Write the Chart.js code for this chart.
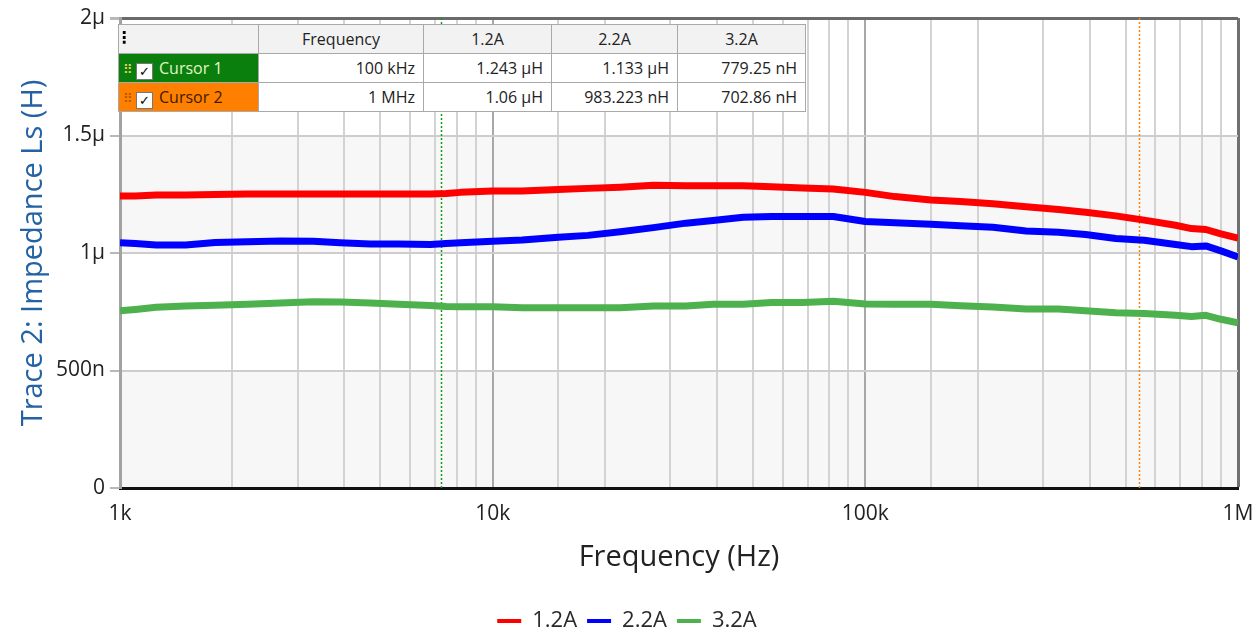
<!DOCTYPE html>
<html>
<head>
<meta charset="utf-8">
<script src="https://cdn.jsdelivr.net/npm/chart.js@4/dist/chart.umd.min.js"></script>
<style>
  body { margin: 0; background: #fff; }
  #wrap { position: relative; width: 1254px; height: 634px; }
  #cursors {
    position: absolute; left: 118px; top: 24px;
    border-collapse: collapse; table-layout: fixed;
    font: 16px "Open Sans", sans-serif; color: #222; background: #fff;
  }
  #cursors td { height: 28px; border: 1px solid #a9a9a9; padding: 0 8px; white-space: nowrap; }
  #cursors tr.head td { background: #f2f2f2; text-align: center; }
  #cursors td.num { text-align: right; }
  #cursors td.c1 { background: #0a7f0e; color: #e4f6c4; padding-left: 4px; }
  #cursors td.c2 { background: #ff8000; color: #3a1c00; padding-left: 4px; }
  .grip { font-size: 13px; letter-spacing: -1px; margin-right: 4px; }
  .c1 .grip { color: #e8d060; }
  .c2 .grip { color: #b05a00; }
  .box {
    display: inline-block; width: 15px; height: 15px; line-height: 15px;
    background: #fff; border: 1px solid #777; color: #000;
    font: bold 13px "DejaVu Sans"; text-align: center; vertical-align: -2px; margin-right: 6px;
  }
  .dots { position: absolute; left: -3px; top: 5px; font: bold 16px "DejaVu Sans"; color: #000; line-height: 16px; }
</style>
</head>
<body>
<div id="wrap">
  <canvas id="chart" width="1254" height="634"></canvas>
  <table id="cursors">
    <colgroup><col style="width:140px"><col style="width:165px"><col style="width:128px"><col style="width:126px"><col style="width:128px"></colgroup>
    <tr class="head"><td style="position:relative"><span class="dots">⋮</span></td><td>Frequency</td><td>1.2A</td><td>2.2A</td><td>3.2A</td></tr>
    <tr><td class="c1"><span class="grip">⠿</span><span class="box">✓</span>Cursor 1</td><td class="num">100 kHz</td><td class="num">1.243 µH</td><td class="num">1.133 µH</td><td class="num">779.25 nH</td></tr>
    <tr><td class="c2"><span class="grip">⠿</span><span class="box">✓</span>Cursor 2</td><td class="num">1 MHz</td><td class="num">1.06 µH</td><td class="num">983.223 nH</td><td class="num">702.86 nH</td></tr>
  </table>
</div>
<script>
// sweep frequencies (Hz)
const freqHz = [1000, 1100, 1250, 1500, 1800, 2200, 2700, 3300, 3900, 4700, 5600, 6800, 7500, 8200,
  10000, 12000, 15000, 18000, 22000, 27000, 33000, 39000, 47000, 56000, 68000, 82000,
  100000, 120000, 150000, 180000, 220000, 270000, 330000, 390000, 470000, 560000, 680000, 750000, 820000, 900000, 1000000];

// Ls in µH for each bias current
const ls12A = [1.243, 1.243, 1.247, 1.247, 1.249, 1.251, 1.251, 1.251, 1.251, 1.251, 1.251, 1.251, 1.253, 1.258,
  1.264, 1.264, 1.270, 1.275, 1.280, 1.288, 1.286, 1.286, 1.286, 1.282, 1.277, 1.272,
  1.258, 1.240, 1.226, 1.219, 1.210, 1.197, 1.185, 1.173, 1.158, 1.140, 1.118, 1.104, 1.100, 1.081, 1.063];
const ls22A = [1.044, 1.040, 1.034, 1.034, 1.045, 1.048, 1.051, 1.050, 1.044, 1.038, 1.038, 1.036, 1.040, 1.044,
  1.050, 1.055, 1.067, 1.075, 1.090, 1.108, 1.127, 1.138, 1.152, 1.155, 1.155, 1.155,
  1.134, 1.129, 1.122, 1.116, 1.110, 1.094, 1.088, 1.079, 1.062, 1.054, 1.036, 1.027, 1.030, 1.009, 0.983];
const ls32A = [0.754, 0.760, 0.769, 0.774, 0.778, 0.782, 0.787, 0.793, 0.791, 0.787, 0.782, 0.777, 0.772, 0.771,
  0.771, 0.767, 0.767, 0.767, 0.767, 0.774, 0.774, 0.782, 0.782, 0.789, 0.789, 0.795,
  0.783, 0.782, 0.782, 0.776, 0.770, 0.762, 0.762, 0.754, 0.746, 0.743, 0.735, 0.730, 0.735, 0.718, 0.703];

const seriesNames = ['1.2A', '2.2A', '3.2A'];
const seriesColors = ['#ff0000', '#0000ff', '#4db24d'];

const xTickValues = [1000, 10000, 100000, 1000000];
const xTickNames = ['1k', '10k', '100k', '1M'];
const yTickNames = ['0', '500n', '1μ', '1.5μ', '2μ'];

// cursor markers (Hz)
const cursorFreqs = [7265, 542000];
const cursorColors = ['#129a12', '#f08a10'];

const FONT = '"Open Sans", "Noto Sans", sans-serif';

const toPoints = vals => freqHz.map((f, i) => ({ x: f, y: vals[i] }));

// alternating shaded bands behind the grid
const bandPlugin = {
  id: 'bands',
  beforeDraw(chart) {
    const { ctx, chartArea: a, scales: { y } } = chart;
    ctx.save();
    ctx.fillStyle = '#f7f7f7';
    [[0, 0.5], [1, 1.5]].forEach(([lo, hi]) => {
      const top = y.getPixelForValue(hi), bot = y.getPixelForValue(lo);
      ctx.fillRect(a.left, top, a.right - a.left, bot - top);
    });
    ctx.restore();
  }
};

const cursorPlugin = {
  id: 'cursors',
  beforeDatasetsDraw(chart) {
    const { ctx, chartArea: a, scales: { x } } = chart;
    ctx.save();
    ctx.lineWidth = 1.5;
    ctx.setLineDash([2, 2]);
    cursorFreqs.forEach((f, i) => {
      const px = Math.round(x.getPixelForValue(f)) + 0.5;
      ctx.strokeStyle = cursorColors[i];
      ctx.beginPath();
      ctx.moveTo(px, a.top);
      ctx.lineTo(px, a.bottom);
      ctx.stroke();
    });
    ctx.restore();
  }
};

const isDecade = v => Math.abs(Math.log10(v) - Math.round(Math.log10(v))) < 1e-9;

new Chart(document.getElementById('chart'), {
  type: 'line',
  data: {
    datasets: [ls12A, ls22A, ls32A].map((vals, i) => ({
      label: seriesNames[i],
      data: toPoints(vals),
      borderColor: seriesColors[i],
      backgroundColor: seriesColors[i],
      borderWidth: 7,
      pointRadius: 0,
      borderJoinStyle: 'round',
      tension: 0
    }))
  },
  options: {
    responsive: false,
    animation: false,
    layout: { padding: { top: 18, right: 0, left: 0, bottom: -8 } },
    plugins: {
      tooltip: { enabled: false },
      legend: {
        position: 'bottom',
        labels: {
          font: { family: FONT, size: 22 },
          color: '#2a2a2a',
          boxWidth: 24,
          boxHeight: 4,
          padding: 10,
          generateLabels: chart => Chart.defaults.plugins.legend.labels.generateLabels(chart)
            .map(l => ({ ...l, lineWidth: 0 }))
        }
      }
    },
    scales: {
      x: {
        type: 'logarithmic',
        min: 1000,
        max: 1000000,
        afterFit: s => { s.height = 112; s.paddingLeft = 0; s.paddingRight = 16; },
        border: { color: '#111', width: 3 },
        grid: {
          drawTicks: false,
          color: c => c.tick.value === 1000000 ? '#707070' : (isDecade(c.tick.value) ? '#a8a8a8' : '#d3d3d3'),
          lineWidth: c => c.tick.value === 1000000 ? 3 : 2
        },
        ticks: {
          autoSkip: false,
          maxRotation: 0,
          padding: 13,
          color: '#222',
          font: { family: FONT, size: 21 },
          callback: v => {
            const i = xTickValues.indexOf(v);
            return i >= 0 ? xTickNames[i] : '';
          }
        },
        title: {
          display: true,
          text: 'Frequency (Hz)',
          color: '#222',
          font: { family: FONT, size: 29 },
          padding: { top: 0, bottom: 25 }
        }
      },
      y: {
        min: 0,
        max: 2,
        afterFit: s => { s.width = 120; },
        border: { color: '#a2a2a2', width: 3 },
        grid: {
          tickLength: 10,
          tickColor: '#b8b8b8',
          color: c => c.index === 4 ? '#6a6a6a' : '#cdcdcd',
          lineWidth: c => c.index === 4 ? 3 : 2
        },
        ticks: {
          stepSize: 0.5,
          padding: 5,
          color: '#222',
          font: { family: FONT, size: 21 },
          callback: (v, i) => yTickNames[i]
        },
        title: {
          display: true,
          text: 'Trace 2: Impedance Ls (H)',
          color: '#2462a4',
          font: { family: FONT, size: 29 },
          padding: { top: 16, bottom: 0 }
        }
      }
    }
  },
  plugins: [bandPlugin, cursorPlugin]
});
</script>
</body>
</html>
